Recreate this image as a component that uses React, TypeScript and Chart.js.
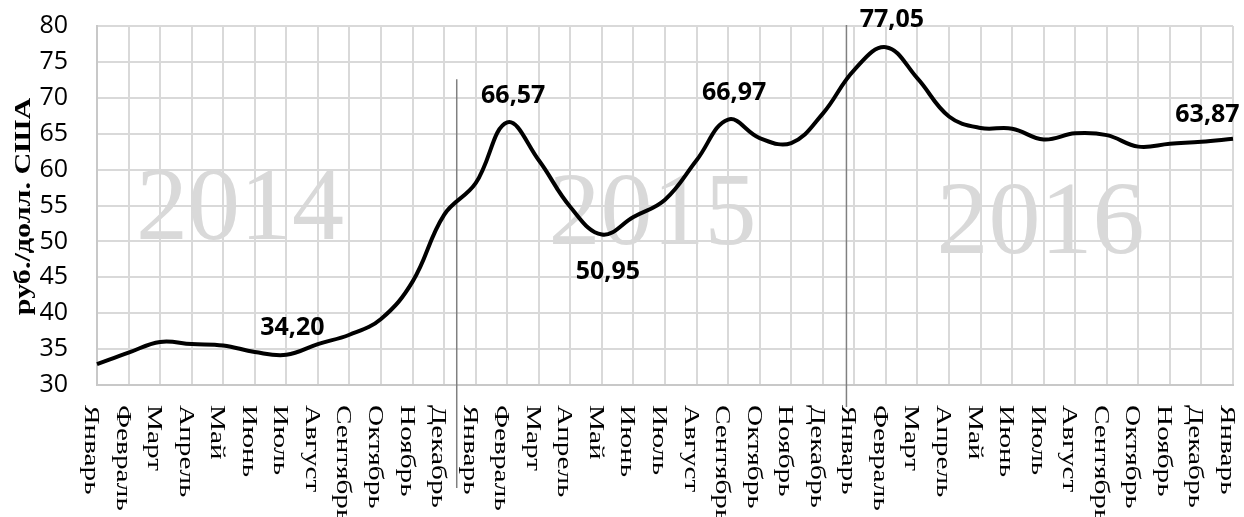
import React, { useEffect, useRef } from "react";
import { Chart, registerables } from "chart.js";

Chart.register(...registerables);

// ---- data ----
const categories: string[] = [
  "Январь", "Февраль", "Март", "Апрель", "Май", "Июнь", "Июль", "Август", "Сентябрь", "Октябрь", "Ноябрь", "Декабрь",
  "Январь", "Февраль", "Март", "Апрель", "Май", "Июнь", "Июль", "Август", "Сентябрь", "Октябрь", "Ноябрь", "Декабрь",
  "Январь", "Февраль", "Март", "Апрель", "Май", "Июнь", "Июль", "Август", "Сентябрь", "Октябрь", "Ноябрь", "Декабрь",
  "Январь",
];

const rateValues: number[] = [
  32.9, 34.5, 36.0, 35.7, 35.5, 34.6, 34.2, 35.7, 37.0, 39.2, 44.4, 53.7,
  58.1, 66.57, 61.3, 54.8, 50.95, 53.4, 55.8, 61.3, 66.97, 64.4, 63.7, 67.8,
  73.9, 77.05, 72.7, 67.4, 65.8, 65.7, 64.2, 65.05, 64.8, 63.2, 63.6, 63.87,
  64.3,
];

const yTicks: number[] = [30, 35, 40, 45, 50, 55, 60, 65, 70, 75, 80];

const labeledIdx: number[] = [6, 13, 16, 20, 25, 35];
const labeledBelow: boolean[] = [false, false, true, false, false, false];

const yearTexts: string[] = ["2014", "2015", "2016"];
const yearAtIdx: number[] = [4.53, 17.6, 29.9];
const yearAtValue: number[] = [50.4, 49.6, 48.4];

const separatorIdx: number[] = [11.4, 23.75];
const separatorTop: number[] = [72.6, 80.15];
const separatorBelowPx: number[] = [103, 22];

const axisTitle = "руб./долл. США";

const fmt = (v: number) => v.toFixed(2).replace(".", ",");

const decorPlugin = {
  id: "decor",
  beforeDatasetsDraw(chart: any) {
    const { ctx, chartArea } = chart;
    const xs = chart.scales.x;
    const ys = chart.scales.y;
    ctx.save();
    // watermarks
    ctx.font = "104px 'Liberation Serif'";
    ctx.fillStyle = "#d9d9d9";
    ctx.textAlign = "center";
    ctx.textBaseline = "alphabetic";
    yearTexts.forEach((t, i) => {
      ctx.fillText(t, xs.getPixelForValue(yearAtIdx[i]), ys.getPixelForValue(yearAtValue[i]));
    });
    // separators
    ctx.strokeStyle = "#808080";
    ctx.lineWidth = 1.5;
    separatorIdx.forEach((s, i) => {
      const x = xs.getPixelForValue(s);
      ctx.beginPath();
      ctx.moveTo(x, ys.getPixelForValue(separatorTop[i]));
      ctx.lineTo(x, chartArea.bottom + separatorBelowPx[i]);
      ctx.stroke();
    });
    ctx.restore();
  },
  afterDatasetsDraw(chart: any) {
    const { ctx, chartArea } = chart;
    const xs = chart.scales.x;
    const ys = chart.scales.y;
    ctx.save();
    // data labels
    ctx.font = "bold 25px 'Open Sans'";
    ctx.fillStyle = "#000";
    ctx.textAlign = "center";
    ctx.textBaseline = "middle";
    labeledIdx.forEach((idx, i) => {
      const x = xs.getPixelForValue(idx) + 6;
      const y = ys.getPixelForValue(rateValues[idx]) + (labeledBelow[i] ? 37 : -27);
      ctx.fillText(fmt(rateValues[idx]), x, y);
    });
    // x labels rotated clockwise
    ctx.font = "22px 'Liberation Serif'";
    ctx.textAlign = "left";
    ctx.textBaseline = "alphabetic";
    categories.forEach((c, i) => {
      const x = xs.getPixelForValue(i) - 12;
      ctx.save();
      ctx.translate(x, chartArea.bottom + 20);
      ctx.rotate(Math.PI / 2);
      ctx.scale(1.33, 1);
      ctx.fillText(c, 0, 0);
      ctx.restore();
    });
    // y title
    ctx.font = "bold 23px 'Liberation Serif'";
    ctx.textAlign = "center";
    ctx.save();
    ctx.translate(30, (chartArea.top + chartArea.bottom) / 2 + 1);
    ctx.rotate(-Math.PI / 2);
    ctx.scale(1.31, 1);
    ctx.fillText(axisTitle, 0, 0);
    ctx.restore();
    ctx.restore();
  },
};

export default function App() {
  const ref = useRef<HTMLCanvasElement | null>(null);
  useEffect(() => {
    document.body.style.margin = "0";
    const canvas = ref.current;
    if (!canvas) return;
    const chart = new Chart(canvas, {
      type: "line",
      data: {
        labels: categories,
        datasets: [
          {
            data: rateValues,
            borderColor: "#000",
            borderWidth: 4,
            pointRadius: 0,
            tension: 0.4,
            fill: false,
          },
        ],
      },
      options: {
        responsive: false,
        animation: false,
        devicePixelRatio: 1,
        layout: { padding: { top: 26, right: 11, left: 0, bottom: 0 } },
        plugins: { legend: { display: false }, tooltip: { enabled: false } },
        scales: {
          x: {
            type: "category",
            offset: false,
            ticks: { display: false },
            grid: { color: "#d9d9d9", lineWidth: 2, drawTicks: false },
            border: { color: "#c8c8c8", width: 2 },
            afterFit: (s: any) => {
              s.height = 132;
              s.paddingLeft = 0;
              s.paddingRight = 0;
            },
          },
          y: {
            min: 30,
            max: 80,
            afterBuildTicks: (s: any) => {
              s.ticks = yTicks.map((v) => ({ value: v }));
            },
            ticks: {
              font: { family: "'Open Sans'", size: 25 },
              color: "#000",
              padding: 29,
            },
            grid: { color: "#d9d9d9", lineWidth: 2, drawTicks: false },
            border: { color: "#c8c8c8", width: 2 },
            afterFit: (s: any) => {
              s.width = 97;
              s.paddingTop = 0;
              s.paddingBottom = 0;
            },
          },
        },
      },
      plugins: [decorPlugin],
    });
    return () => chart.destroy();
  }, []);
  return (
    <div style={{ width: 1244, height: 517 }}>
      <canvas ref={ref} width={1244} height={517} style={{ display: "block" }} />
    </div>
  );
}
